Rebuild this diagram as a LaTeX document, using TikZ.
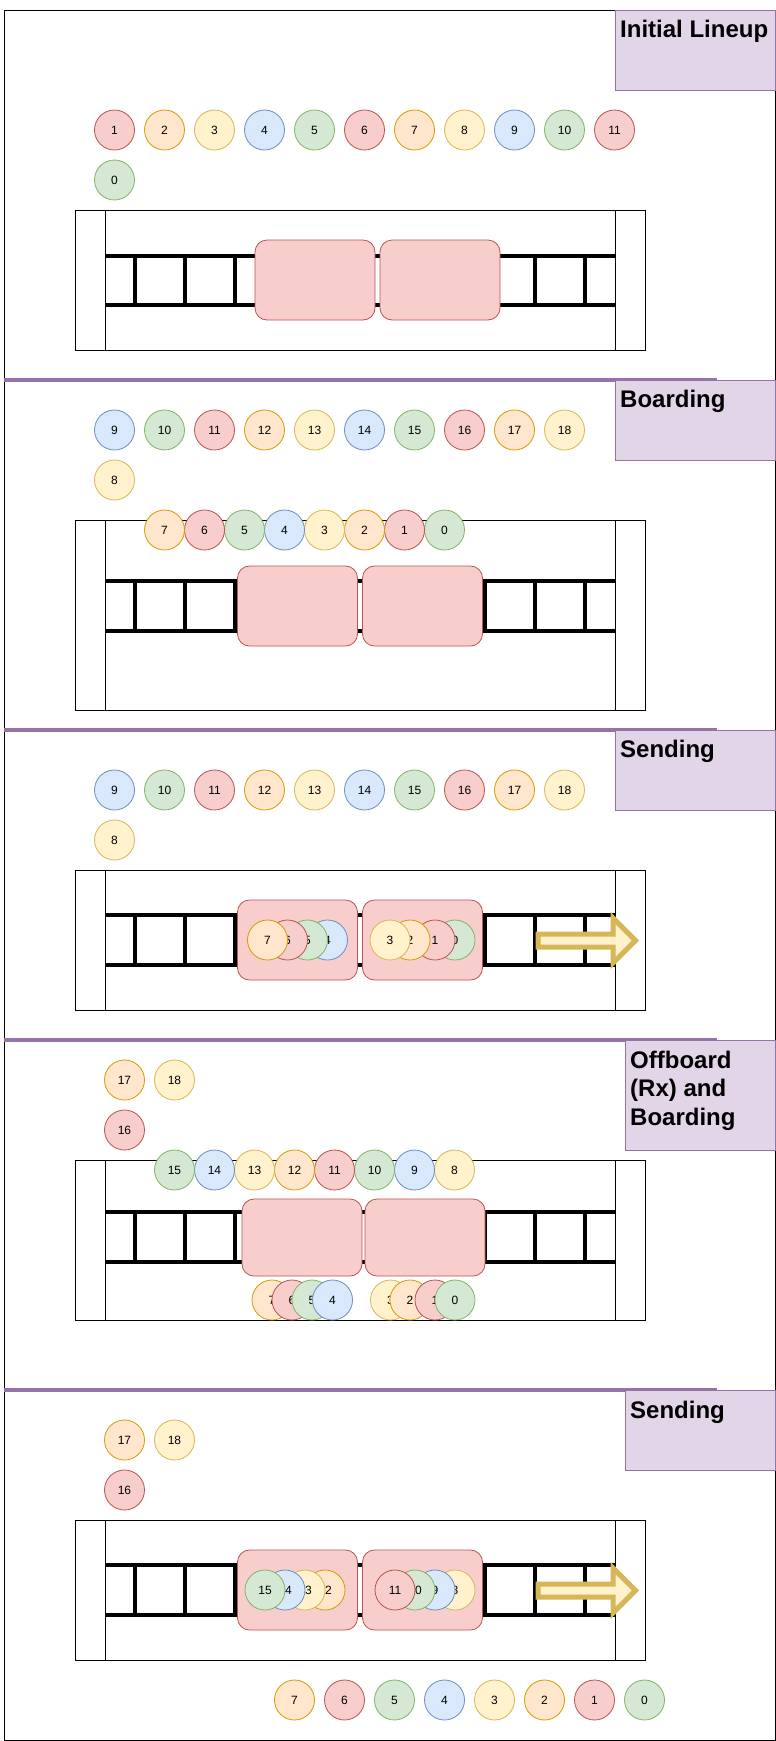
\documentclass[tikz,border=0pt]{standalone}
\usepackage{fontspec}
\setmainfont{Liberation Sans}
\definecolor{redF}{HTML}{F8CECC}\definecolor{redD}{HTML}{B85450}
\definecolor{oraF}{HTML}{FFE6CC}\definecolor{oraD}{HTML}{D79B00}
\definecolor{yelF}{HTML}{FFF2CC}\definecolor{yelD}{HTML}{D6B656}
\definecolor{bluF}{HTML}{DAE8FC}\definecolor{bluD}{HTML}{6C8EBF}
\definecolor{grnF}{HTML}{D5E8D4}\definecolor{grnD}{HTML}{82B366}
\definecolor{purF}{HTML}{E1D5E7}\definecolor{purD}{HTML}{9673A6}
\tikzset{
  pax/.style={circle, draw, line width=0.8pt, minimum size=40pt, inner sep=0pt, font=\fontsize{12}{14}\selectfont},
  tone0/.style={fill=grnF, draw=grnD},
  tone1/.style={fill=redF, draw=redD},
  tone2/.style={fill=oraF, draw=oraD},
  tone3/.style={fill=yelF, draw=yelD},
  tone4/.style={fill=bluF, draw=bluD},
  car/.style={draw=redD, fill=redF, rounded corners=12pt, line width=0.8pt},
  rail/.style={line width=4pt},
  rung/.style={line width=4.5pt},
  divider/.style={draw=purD, line width=4pt},
  stagebox/.style={draw=purD, fill=purF, line width=1pt},
  stage/.style={anchor=north west, inner sep=0pt, align=left, font=\fontsize{24}{28.7}\selectfont\bfseries},
  sendarrow/.style={draw=yelD, fill=yelF, line width=5pt}
}
\begin{document}
\begin{tikzpicture}[x=1pt, y=-1pt]
\useasboundingbox (0,0) rectangle (776,1741);
% Outer frame and stage separators
\draw[line width=1pt] (4.5,10) rectangle (775.5,1740);
\draw[divider] (3.5,380) -- (716.5,380);
\draw[divider] (3.5,730) -- (716.5,730);
\draw[divider] (3.5,1040) -- (716.5,1040);
\draw[divider] (3.5,1390) -- (716.5,1390);

% Stage 1: initial lineup
\draw[stagebox] (615.5,10) rectangle (775.5,90);
\node[stage] (tA) at (620,20) {Initial Lineup};
\foreach \n in {1,...,11}{
  \pgfmathtruncatemacro\c{mod(\n,5)}
  \node[pax,tone\c] (A\n) at (64.5+50*\n,130) {\n};
}
\node[pax,tone0] (A0) at (114.5,180) {0};
\draw[line width=1pt] (75,210) rectangle (645,350);
\draw (105,210) -- (105,350);
\draw (615,210) -- (615,350);
\draw[rail] (105,256) -- (615,256);
\draw[rail] (105,305) -- (615,305);
\foreach \x in {135,185,...,585} \draw[rung] (\x,256) -- (\x,305);
\draw[car] (255,240) rectangle (375,320);
\draw[car] (380,240) rectangle (500,320);

% Stage 2: boarding
\draw[stagebox] (615.5,380) rectangle (775.5,460);
\node[stage] (tB) at (620,390) {Boarding};
\foreach \n in {9,...,18}{
  \pgfmathtruncatemacro\c{mod(\n,5)}
  \node[pax,tone\c] (B\n) at (-335.5+50*\n,430) {\n};
}
\node[pax,tone3] (B8) at (114.5,480) {8};
\draw[line width=1pt] (75,520.5) rectangle (645,710.5);
\draw (105,520.5) -- (105,710.5);
\draw (615,520.5) -- (615,710.5);
\draw[rail] (105,581) -- (615,581);
\draw[rail] (105,631) -- (615,631);
\foreach \x in {135,185,...,585} \draw[rung] (\x,581) -- (\x,631);
\draw[car] (237.5,566) rectangle (357.5,646);
\draw[car] (362.5,566) rectangle (482.5,646);
\foreach \n in {0,...,7}{
  \pgfmathtruncatemacro\c{mod(\n,5)}
  \node[pax,tone\c] (Bq\n) at (444.5-40*\n,530) {\n};
}

% Stage 3: sending
\draw[stagebox] (615.5,730) rectangle (775.5,810);
\node[stage] (tC) at (620,740) {Sending};
\foreach \n in {9,...,18}{
  \pgfmathtruncatemacro\c{mod(\n,5)}
  \node[pax,tone\c] (C\n) at (-335.5+50*\n,790) {\n};
}
\node[pax,tone3] (C8) at (114.5,840) {8};
\draw[line width=1pt] (75,870.5) rectangle (645,1010.5);
\draw (105,870.5) -- (105,1010.5);
\draw (615,870.5) -- (615,1010.5);
\draw[rail] (105,915) -- (615,915);
\draw[rail] (105,965) -- (615,965);
\foreach \x in {135,185,...,585} \draw[rung] (\x,915) -- (\x,965);
\draw[car] (237.5,900) rectangle (357.5,980);
\draw[car] (362.5,900) rectangle (482.5,980);
\node[pax,tone4] (Cq4) at (327.5,940) {4};
\node[pax,tone0] (Cq5) at (307.5,940) {5};
\node[pax,tone1] (Cq6) at (287.5,940) {6};
\node[pax,tone2] (Cq7) at (267.5,940) {7};
\node[pax,tone0] (Cq0) at (455,940) {0};
\node[pax,tone1] (Cq1) at (435,940) {1};
\node[pax,tone2] (Cq2) at (410,940) {2};
\node[pax,tone3] (Cq3) at (390,940) {3};
\draw[sendarrow] (538,934) -- (613,934) -- (613,918) -- (635.5,940.5) -- (613,963) -- (613,947) -- (538,947) -- cycle;

% Stage 4: offboard (Rx) and boarding
\draw[stagebox] (625.5,1040) rectangle (775.5,1150);
\node[stage] (tD) at (630,1050.5) {Offboard\\(Rx) and\\Boarding};
\node[pax,tone2] (D17) at (124.5,1080) {17};
\node[pax,tone3] (D18) at (174.5,1080) {18};
\node[pax,tone1] (D16) at (124.5,1130) {16};
\draw[line width=1pt] (75,1160.5) rectangle (645,1320.5);
\draw (105,1160.5) -- (105,1320.5);
\draw (615,1160.5) -- (615,1320.5);
\draw[rail] (105,1211.5) -- (615,1211.5);
\draw[rail] (105,1261.5) -- (615,1261.5);
\foreach \x in {135,185,...,585} \draw[rung] (\x,1211.5) -- (\x,1261.5);
\draw[car] (242,1199) rectangle (362,1276);
\draw[car] (365,1199) rectangle (485,1276);
\foreach \n in {8,...,15}{
  \pgfmathtruncatemacro\c{mod(\n,5)}
  \node[pax,tone\c] (D\n) at (774.5-40*\n,1170) {\n};
}
\node[pax,tone2] (Dq7) at (272,1300) {7};
\node[pax,tone1] (Dq6) at (292,1300) {6};
\node[pax,tone0] (Dq5) at (312,1300) {5};
\node[pax,tone4] (Dq4) at (332.5,1300) {4};
\node[pax,tone3] (Dq3) at (390.5,1300) {3};
\node[pax,tone2] (Dq2) at (410,1300) {2};
\node[pax,tone1] (Dq1) at (435,1300) {1};
\node[pax,tone0] (Dq0) at (455,1300) {0};

% Stage 5: sending
\draw[stagebox] (625.5,1390) rectangle (775.5,1470);
\node[stage] (tE) at (630,1400.5) {Sending};
\node[pax,tone2] (E17) at (124.5,1440) {17};
\node[pax,tone3] (E18) at (174.5,1440) {18};
\node[pax,tone1] (E16) at (124.5,1490) {16};
\draw[line width=1pt] (75,1520.5) rectangle (645,1660.5);
\draw (105,1520.5) -- (105,1660.5);
\draw (615,1520.5) -- (615,1660.5);
\draw[rail] (105,1565) -- (615,1565);
\draw[rail] (105,1615) -- (615,1615);
\foreach \x in {135,185,...,585} \draw[rung] (\x,1565) -- (\x,1615);
\draw[car] (237.5,1550) rectangle (357.5,1630);
\draw[car] (362.5,1550) rectangle (482.5,1630);
\node[pax,tone2] (E12) at (325,1590) {12};
\node[pax,tone3] (E13) at (305,1590) {13};
\node[pax,tone4] (E14) at (285,1590) {14};
\node[pax,tone0] (E15) at (265,1590) {15};
\node[pax,tone3] (E8) at (455,1590) {8};
\node[pax,tone4] (E9) at (435,1590) {9};
\node[pax,tone0] (E10) at (415,1590) {10};
\node[pax,tone1] (E11) at (395,1590) {11};
\draw[sendarrow] (538,1584) -- (613,1584) -- (613,1568) -- (635.5,1590.5) -- (613,1613) -- (613,1597) -- (538,1597) -- cycle;
\foreach \n in {0,...,7}{
  \pgfmathtruncatemacro\c{mod(\n,5)}
  \node[pax,tone\c] (Eq\n) at (644.5-50*\n,1700) {\n};
}
\end{tikzpicture}
\end{document}
